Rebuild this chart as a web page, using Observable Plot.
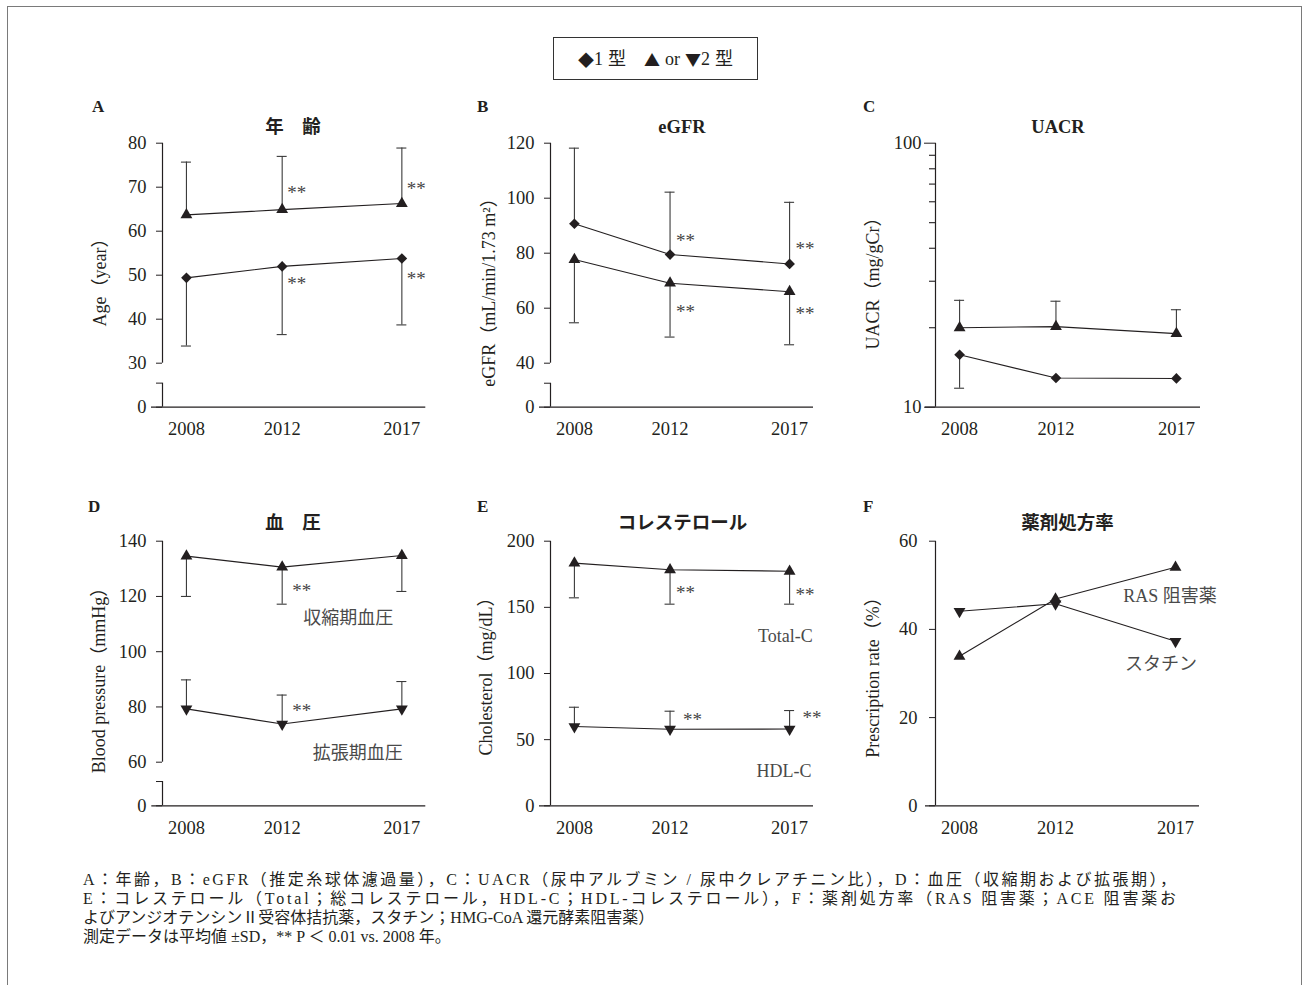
<!DOCTYPE html>
<html>
<head>
<meta charset="utf-8">
<script src="https://cdn.jsdelivr.net/npm/d3@7"></script>
<script src="https://cdn.jsdelivr.net/npm/@observablehq/plot@0.6"></script>
<style>
  body { margin: 0; background: #fff; }
  #root { position: relative; width: 1306px; height: 985px; overflow: hidden;
          font-family: "Liberation Serif", "Noto Sans CJK JP", serif; color: #231f20; background: #fff; }
  .abs { position: absolute; white-space: nowrap; line-height: 1; }
  .frame { position: absolute; left: 7px; top: 6px; width: 1295px; height: 1010px;
           border: 1.5px solid #7a7a7a; box-sizing: border-box; }
  .title { font-weight: bold; font-size: 18.5px; transform: translate(-50%, -50%); }
  .letter { font-weight: bold; font-size: 17px; transform: translateY(-50%); }
  .ylab { font-size: 18px; transform: translate(-50%, -50%) rotate(-90deg); }
  .legend { left: 553px; top: 37px; width: 205px; height: 43px; border: 1px solid #333;
            box-sizing: border-box; display: flex; align-items: center; justify-content: center;
            font-size: 18px; }
  .sym { font-family: "Noto Sans CJK JP", sans-serif; font-size: 16px; }
  .gap { display: inline-block; width: 18px; }
  .sp { display: inline-block; width: 5px; }
</style>
</head>
<body>
<div id="root"><div class="frame"></div></div>
<script>
// ---------------- data ----------------
const years = [2008, 2012, 2017];

// A 年齢
const ageType1 = [49.4, 52.0, 53.8];
const ageType1SdLow = [33.9, 36.5, 38.7];
const ageType2 = [63.7, 64.9, 66.3];
const ageType2SdHigh = [75.7, 77.0, 78.9];
const ageTicks = [0, 30, 40, 50, 60, 70, 80];
const ageStars = [[2012, 69.9], [2017, 70.8], [2012, 49.2], [2017, 50.4]];

// B eGFR
const egfrType1 = [90.7, 79.5, 76.1];
const egfrType1SdHigh = [118.2, 102.2, 98.5];
const egfrType2 = [77.7, 69.1, 66.0];
const egfrType2SdLow = [54.7, 49.5, 46.7];
const egfrTicks = [0, 40, 60, 80, 100, 120];
const egfrStars = [[2012, 86.4], [2017, 83.2], [2012, 60.6], [2017, 59.9]];

// C UACR (log)
const uacrType1 = [15.8, 12.9, 12.85];
const uacrType1SdLow = [11.8, null, null];
const uacrType2 = [20.0, 20.2, 19.0];
const uacrType2SdHigh = [25.4, 25.2, 23.4];
const uacrTicks = [10, 100];
const uacrMinorTicks = [20, 30, 40, 50, 60, 70, 80, 90];

// D 血圧
const sbp = [134.6, 130.6, 134.8];
const sbpSdLow = [120.0, 117.2, 121.8];
const dbp = [79.3, 73.8, 79.3];
const dbpSdHigh = [89.8, 84.3, 89.2];
const bpTicks = [0, 60, 80, 100, 120, 140];
const bpStars = [[2012, 123.7], [2012, 80.5]];
const bpLabels = [{year: 2014.76, value: 112.0, text: "収縮期血圧"}, {year: 2015.16, value: 63.1, text: "拡張期血圧"}];

// E コレステロール
const totalC = [183.4, 178.4, 177.3];
const totalCSdLow = [157.2, 152.4, 152.4];
const hdlC = [59.9, 57.9, 58.0];
const hdlCSdHigh = [74.5, 71.5, 72.0];
const cholTicks = [0, 50, 100, 150, 200];
const totalStars = [[2012, 164.5], [2017, 163.5]];
const hdlStars = [[2012, 69.0], [2017, 70.3]];
const cholLabels = [{year: 2016.82, value: 128.2, text: "Total-C"}, {year: 2016.77, value: 26.2, text: "HDL-C"}];

// F 薬剤処方率
const rasRate = [33.9, 46.9, 54.1];
const statinRate = [44.1, 45.8, 37.3];
const rxTicks = [0, 20, 40, 60];
const rxLabels = [{year: 2014.82, value: 47.5, text: "RAS 阻害薬"}, {year: 2014.9, value: 32.0, text: "スタチン"}];

const captionLines = [
  "A：年齢，B：eGFR（推定糸球体濾過量），C：UACR（尿中アルブミン / 尿中クレアチニン比），D：血圧（収縮期および拡張期），",
  "E：コレステロール（Total；総コレステロール，HDL-C；HDL-コレステロール），F：薬剤処方率（RAS 阻害薬；ACE 阻害薬お",
  "よびアンジオテンシンⅡ受容体拮抗薬，スタチン；HMG-CoA 還元酵素阻害薬）",
  "測定データは平均値 ±SD，** P ＜ 0.01 vs. 2008 年。"
];

// ---------------- drawing ----------------
const root = document.getElementById("root");
const INK = "#231f20";
const FONT = '"Liberation Serif", "Noto Sans CJK JP", serif';

const triDown = {
  draw(context, size) {
    const y = -Math.sqrt(size / (Math.sqrt(3) * 3));
    context.moveTo(0, -y * 2);
    context.lineTo(-Math.sqrt(3) * y, y);
    context.lineTo(Math.sqrt(3) * y, y);
    context.closePath();
  }
};

function rows(vals, bounds) {
  return years.map((year, i) => ({year, value: vals[i], bound: bounds ? bounds[i] : null}));
}

function seriesMarks(vals, bounds, symbol) {
  const data = rows(vals, bounds);
  const eb = data.filter(d => d.bound != null);
  const r = symbol === "diamond2" ? 4.8 : 4.4;
  return [
    Plot.ruleX(eb, {x: "year", y1: "value", y2: "bound", stroke: "#3a3a3a", strokeWidth: 1.1}),
    Plot.ruleY(eb, {y: "bound", x1: "year", x2: "year", insetLeft: -5, insetRight: -5, stroke: "#3a3a3a", strokeWidth: 1.1}),
    Plot.line(data, {x: "year", y: "value", stroke: INK, strokeWidth: 1.1}),
    Plot.dot(data, {x: "year", y: "value", symbol, r, fill: INK, stroke: "none"})
  ];
}

function starMarks(stars, dx) {
  return Plot.text(stars, {x: d => d[0], y: d => d[1], text: () => "**", textAnchor: "start",
    dx, dy: 5, fontSize: 19, fill: "#454545", fontFamily: FONT});
}

function labelMarks(labels, anchor) {
  return Plot.text(labels, {x: "year", y: "value", text: "text", textAnchor: anchor,
    fontSize: 18, fill: "#4a4a4a", fontFamily: FONT});
}

function panel(cfg) {
  const left = cfg.axisX - 62;
  const width = cfg.xEnd - left + 14;
  const yRange = cfg.yPix.map(v => v - cfg.top);
  const svg = Plot.plot({
    width, height: cfg.height,
    marginLeft: cfg.axisX - left,
    marginRight: left + width - cfg.xEnd,
    marginTop: 5,
    marginBottom: cfg.top + cfg.height - cfg.xAxisY,
    style: {fontFamily: FONT, fontSize: "18.5px", color: INK, background: "transparent", overflow: "visible"},
    x: {type: "linear", domain: [2007, 2018], ticks: years, tickFormat: d => String(d),
        tickSize: 0, tickPadding: 15, label: null},
    y: {type: cfg.yType || "linear", domain: cfg.yDomain, range: yRange, ticks: cfg.yTicks,
        tickFormat: cfg.yFormat || (d => String(d)), tickSize: cfg.tickSize || 6,
        tickPadding: cfg.tickPadding || 10, label: null},
    marks: [
      Plot.ruleY([cfg.yDomain[0]], {stroke: INK, strokeWidth: 1.2, insetLeft: -(cfg.axisX - cfg.xStart)}),
      Plot.ruleX(cfg.axisSegments, {x: () => 2007, y1: d => d[0], y2: d => d[1], stroke: INK, strokeWidth: 1.2}),
      ...cfg.marks
    ]
  });
  svg.style.position = "absolute";
  svg.style.left = left + "px";
  svg.style.top = cfg.top + "px";
  root.appendChild(svg);
}

const TOP1 = 135, TOP2 = 530, H = 320;

// A
const ageBreak = 16.4;
panel({
  top: TOP1, height: H, axisX: 161.7, xStart: 150.7, xEnd: 425, xAxisY: 406.7,
  yDomain: [0, 30, 80], yPix: [406.7, 362.7, 142.7],
  yTicks: [...ageTicks, ageBreak], yFormat: d => d === ageBreak ? "" : String(d),
  axisSegments: [[30, 80], [0, ageBreak]],
  marks: [
    ...seriesMarks(ageType2, ageType2SdHigh, "triangle"),
    ...seriesMarks(ageType1, ageType1SdLow, "diamond2"),
    starMarks(ageStars, 5)
  ]
});

// B
const egfrBreak = 21.8;
panel({
  top: TOP1, height: H, axisX: 550, xStart: 539, xEnd: 813, xAxisY: 406.7,
  yDomain: [0, 40, 120], yPix: [406.7, 362.7, 142.7],
  yTicks: [...egfrTicks, egfrBreak], yFormat: d => d === egfrBreak ? "" : String(d),
  axisSegments: [[40, 120], [0, egfrBreak]],
  marks: [
    ...seriesMarks(egfrType1, egfrType1SdHigh, "diamond2"),
    ...seriesMarks(egfrType2, egfrType2SdLow, "triangle"),
    starMarks(egfrStars, 6)
  ]
});

// C
panel({
  top: TOP1, height: H, axisX: 935, xStart: 925, xEnd: 1200, xAxisY: 406.7,
  yType: "log", yDomain: [10, 100], yPix: [406.7, 142.7],
  yTicks: uacrTicks, tickSize: 11, tickPadding: 3,
  axisSegments: [[10, 100]],
  marks: [
    Plot.ruleY(uacrMinorTicks, {y: d => d, x1: () => 2007, x2: () => 2007, insetLeft: -6, stroke: INK, strokeWidth: 1.1}),
    ...seriesMarks(uacrType2, uacrType2SdHigh, "triangle"),
    ...seriesMarks(uacrType1, uacrType1SdLow, "diamond2")
  ]
});

// D
const bpBreak = 33.4;
panel({
  top: TOP2, height: H, axisX: 161.7, xStart: 151, xEnd: 425, xAxisY: 805.3,
  yDomain: [0, 60, 140], yPix: [805.3, 761.7, 540.7],
  yTicks: [...bpTicks, bpBreak], yFormat: d => d === bpBreak ? "" : String(d),
  axisSegments: [[60, 140], [0, bpBreak]],
  marks: [
    ...seriesMarks(sbp, sbpSdLow, "triangle"),
    ...seriesMarks(dbp, dbpSdHigh, triDown),
    starMarks(bpStars, 10),
    labelMarks(bpLabels, "middle")
  ]
});

// E
panel({
  top: TOP2, height: H, axisX: 550, xStart: 539, xEnd: 813, xAxisY: 805.3,
  yDomain: [0, 200], yPix: [805.3, 540.7],
  yTicks: cholTicks,
  axisSegments: [[0, 200]],
  marks: [
    ...seriesMarks(totalC, totalCSdLow, "triangle"),
    ...seriesMarks(hdlC, hdlCSdHigh, triDown),
    starMarks(totalStars, 6),
    starMarks(hdlStars, 13),
    labelMarks(cholLabels, "middle")
  ]
});

// F
panel({
  top: TOP2, height: H, axisX: 935, xStart: 925, xEnd: 1199, xAxisY: 805.3,
  yDomain: [0, 60], yPix: [805.3, 540.7],
  yTicks: rxTicks, tickPadding: 12,
  axisSegments: [[0, 60]],
  marks: [
    ...seriesMarks(statinRate, null, triDown),
    ...seriesMarks(rasRate, null, "triangle"),
    labelMarks(rxLabels, "start")
  ]
});

// ---------------- text ----------------
function addDiv(cls, text, x, y) {
  const el = document.createElement("div");
  el.className = "abs " + cls;
  el.textContent = text;
  el.style.left = x + "px";
  el.style.top = y + "px";
  root.appendChild(el);
  return el;
}

const legend = document.createElement("div");
legend.className = "abs legend";
legend.innerHTML = '<span class="sym">◆</span>1<span class="sp"></span>型<span class="gap"></span>' +
  '<span class="sym">▲</span><span class="sp"></span>or<span class="sp"></span><span class="sym">▼</span>2<span class="sp"></span>型';
root.appendChild(legend);

[["A", 92, 106], ["B", 477, 106], ["C", 863, 106], ["D", 88, 506], ["E", 477, 506], ["F", 863, 506]]
  .forEach(([t, x, y]) => addDiv("letter", t, x, y));

[["年　齢", 293, 127], ["eGFR", 682, 127], ["UACR", 1058, 127],
 ["血　圧", 293, 523], ["コレステロール", 682.5, 523], ["薬剤処方率", 1067.5, 523]]
  .forEach(([t, x, y]) => addDiv("title", t, x, y));

[["Age（year）", 99.5, 277.5], ["eGFR（mL/min/1.73 m²）", 489, 288], ["UACR（mg/gCr）", 872.5, 279],
 ["Blood pressure（mmHg）", 98.5, 676], ["Cholesterol（mg/dL）", 486, 672], ["Prescription rate（%）", 872.5, 673]]
  .forEach(([t, x, y]) => addDiv("ylab", t, x, y));

// caption
const cap = d3.create("svg").attr("width", 1306).attr("height", 110)
  .style("position", "absolute").style("left", "0px").style("top", "860px")
  .style("font-family", FONT).style("font-size", "16px").attr("fill", INK);
const capBase = [25, 44, 63, 82];
captionLines.forEach((line, i) => {
  const t = cap.append("text").attr("x", 83).attr("y", capBase[i]).text(line);
  if (i < 2) t.attr("textLength", 1093).attr("lengthAdjust", "spacing");
});
root.appendChild(cap.node());
</script>
</body>
</html>
